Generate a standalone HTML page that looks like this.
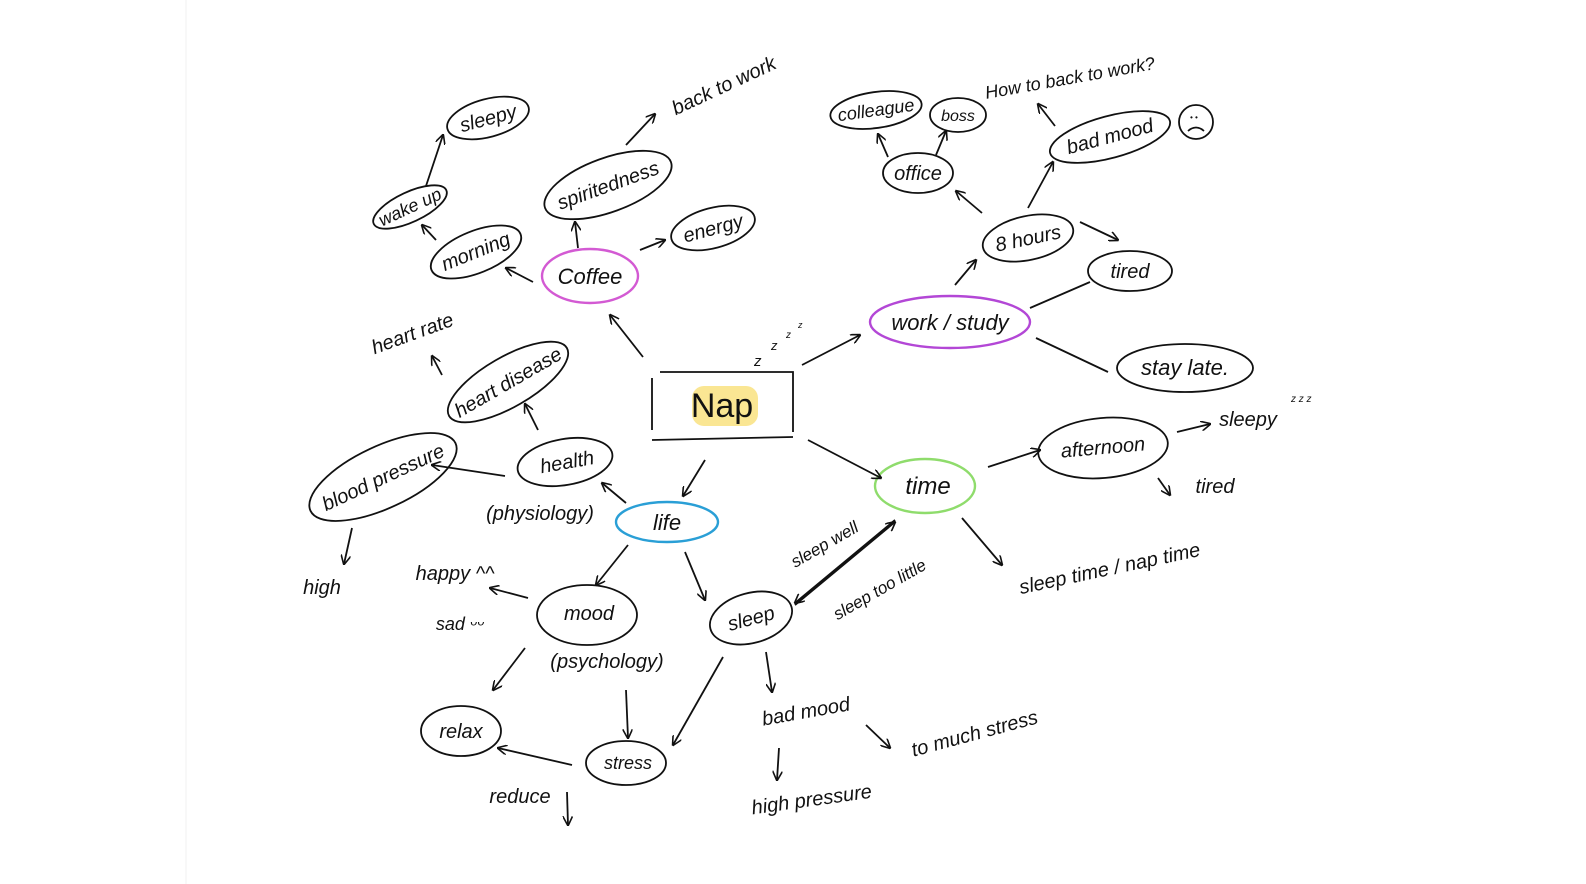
<!DOCTYPE html>
<html><head><meta charset="utf-8"><style>
html,body{margin:0;padding:0;background:#fff;width:1586px;height:884px;overflow:hidden}
svg{display:block}
text{font-family:"Liberation Sans",sans-serif;font-style:italic;fill:#111}
</style></head><body>
<svg width="1586" height="884" viewBox="0 0 1586 884" xmlns="http://www.w3.org/2000/svg">
<defs>
<marker id="a" viewBox="0 0 10 10" refX="9" refY="5" markerWidth="10" markerHeight="10" orient="auto" markerUnits="userSpaceOnUse">
<path d="M0,0 L10,5 L0,10" fill="none" stroke="#111" stroke-width="1.6"/></marker>
</defs>
<line x1="186" y1="0" x2="186" y2="884" stroke="#f2f2f2" stroke-width="1"/>
<g fill="none" stroke="#111" stroke-width="1.8">
<!-- Nap box -->
<path d="M660,372 L793,372 L793,432 M652,378 L652,430 M652,440 L793,437"/>
<!-- ellipses -->
<ellipse cx="590" cy="276" rx="48" ry="27" stroke="#d35ad3" stroke-width="2.4"/>
<ellipse cx="608" cy="185" rx="67" ry="27" transform="rotate(-20 608 185)"/>
<ellipse cx="713" cy="228" rx="43" ry="20" transform="rotate(-15 713 228)"/>
<ellipse cx="476" cy="252" rx="48" ry="21" transform="rotate(-22 476 252)"/>
<ellipse cx="410" cy="207" rx="40" ry="15" transform="rotate(-25 410 207)"/>
<ellipse cx="488" cy="118" rx="42" ry="19" transform="rotate(-15 488 118)"/>
<ellipse cx="508" cy="382" rx="68" ry="25" transform="rotate(-30 508 382)"/>
<ellipse cx="565" cy="462" rx="48" ry="23" transform="rotate(-10 565 462)"/>
<ellipse cx="383" cy="477" rx="80" ry="31" transform="rotate(-25 383 477)"/>
<ellipse cx="667" cy="522" rx="51" ry="20" stroke="#2a9fd6" stroke-width="2.4"/>
<ellipse cx="587" cy="615" rx="50" ry="30"/>
<ellipse cx="461" cy="731" rx="40" ry="25"/>
<ellipse cx="626" cy="763" rx="40" ry="22"/>
<ellipse cx="751" cy="618" rx="42" ry="25" transform="rotate(-15 751 618)"/>
<ellipse cx="925" cy="486" rx="50" ry="27" stroke="#8fdc6c" stroke-width="2.4"/>
<ellipse cx="1103" cy="448" rx="65" ry="30" transform="rotate(-5 1103 448)"/>
<ellipse cx="950" cy="322" rx="80" ry="26" stroke="#b347d6" stroke-width="2.4"/>
<ellipse cx="1028" cy="238" rx="46" ry="22" transform="rotate(-12 1028 238)"/>
<ellipse cx="1130" cy="271" rx="42" ry="20"/>
<ellipse cx="1185" cy="368" rx="68" ry="24"/>
<ellipse cx="918" cy="173" rx="35" ry="20"/>
<ellipse cx="876" cy="110" rx="46" ry="18" transform="rotate(-8 876 110)"/>
<ellipse cx="958" cy="115" rx="28" ry="17"/>
<ellipse cx="1110" cy="137" rx="62" ry="21" transform="rotate(-15 1110 137)"/>
<circle cx="1196" cy="122" r="17"/>
<path d="M1188,131 Q1196,124 1204,131"/>
<!-- arrows -->
<g marker-end="url(#a)">
<line x1="643" y1="357" x2="610" y2="315"/>
<line x1="578" y1="248" x2="575" y2="222"/>
<line x1="626" y1="145" x2="655" y2="114"/>
<line x1="640" y1="250" x2="665" y2="240"/>
<line x1="533" y1="282" x2="506" y2="268"/>
<line x1="436" y1="240" x2="422" y2="225"/>
<line x1="426" y1="186" x2="443" y2="135"/>
<line x1="538" y1="430" x2="525" y2="404"/>
<line x1="442" y1="375" x2="432" y2="356"/>
<line x1="505" y1="476" x2="432" y2="465"/>
<line x1="352" y1="528" x2="344" y2="564"/>
<line x1="626" y1="503" x2="602" y2="483"/>
<line x1="705" y1="460" x2="683" y2="496"/>
<line x1="628" y1="545" x2="596" y2="585"/>
<line x1="685" y1="552" x2="705" y2="600"/>
<line x1="528" y1="598" x2="490" y2="588"/>
<line x1="525" y1="648" x2="493" y2="690"/>
<line x1="626" y1="690" x2="628" y2="738"/>
<line x1="572" y1="765" x2="498" y2="748"/>
<line x1="567" y1="792" x2="568" y2="825"/>
<line x1="723" y1="657" x2="673" y2="745"/>
<line x1="766" y1="652" x2="772" y2="692"/>
<line x1="779" y1="748" x2="777" y2="780"/>
<line x1="866" y1="725" x2="890" y2="748"/>
<line x1="895" y1="520" x2="795" y2="603"/>
<line x1="795" y1="605" x2="895" y2="522"/>
<line x1="808" y1="440" x2="881" y2="478"/>
<line x1="962" y1="518" x2="1002" y2="565"/>
<line x1="988" y1="467" x2="1040" y2="450"/>
<line x1="1177" y1="432" x2="1210" y2="424"/>
<line x1="1158" y1="478" x2="1170" y2="495"/>
<line x1="802" y1="365" x2="860" y2="335"/>
<line x1="955" y1="285" x2="976" y2="260"/>
<line x1="1080" y1="222" x2="1118" y2="240"/>
<line x1="1028" y1="208" x2="1053" y2="162"/>
<line x1="1055" y1="126" x2="1038" y2="104"/>
<line x1="982" y1="213" x2="956" y2="191"/>
<line x1="888" y1="157" x2="878" y2="134"/>
<line x1="936" y1="155" x2="946" y2="131"/>
</g>
<line x1="1030" y1="308" x2="1090" y2="282"/>
<line x1="1036" y1="338" x2="1108" y2="372"/>
</g>
<!-- Nap highlight -->
<rect x="692" y="386" width="66" height="40" rx="12" fill="#f6d23a" opacity="0.55"/>
<text x="722" y="417" text-anchor="middle" font-size="34" style="font-style:normal">Nap</text>
<text x="754" y="366" font-size="15">z</text><text x="771" y="350" font-size="13">z</text><text x="786" y="338" font-size="10">z</text><text x="798" y="328" font-size="9">z</text>
<g font-size="20">
<text x="590" y="284" text-anchor="middle" font-size="22">Coffee</text>
<text x="608" y="192" text-anchor="middle" transform="rotate(-20 608 185)">spiritedness</text>
<text x="713" y="235" text-anchor="middle" transform="rotate(-15 713 228)">energy</text>
<text x="476" y="258" text-anchor="middle" transform="rotate(-22 476 252)">morning</text>
<text x="410" y="213" text-anchor="middle" font-size="18" transform="rotate(-25 410 207)">wake up</text>
<text x="488" y="125" text-anchor="middle" transform="rotate(-15 488 118)">sleepy</text>
<text x="725" y="92" text-anchor="middle" transform="rotate(-25 725 88)">back to work</text>
<text x="508" y="389" text-anchor="middle" transform="rotate(-30 508 382)">heart disease</text>
<text x="413" y="340" text-anchor="middle" transform="rotate(-20 413 335)">heart rate</text>
<text x="567" y="469" text-anchor="middle" transform="rotate(-10 565 462)">health</text>
<text x="540" y="520" text-anchor="middle">(physiology)</text>
<text x="383" y="484" text-anchor="middle" transform="rotate(-25 383 477)">blood pressure</text>
<text x="322" y="594" text-anchor="middle">high</text>
<text x="667" y="530" text-anchor="middle" font-size="22">life</text>
<text x="589" y="620" text-anchor="middle">mood</text>
<text x="607" y="668" text-anchor="middle">(psychology)</text>
<text x="455" y="580" text-anchor="middle">happy ^^</text>
<text x="460" y="630" text-anchor="middle" font-size="18">sad ᵕᵕ</text>
<text x="461" y="738" text-anchor="middle">relax</text>
<text x="628" y="769" text-anchor="middle" font-size="18">stress</text>
<text x="520" y="803" text-anchor="middle">reduce</text>
<text x="751" y="625" text-anchor="middle" transform="rotate(-15 751 618)">sleep</text>
<text x="806" y="718" text-anchor="middle" transform="rotate(-10 806 712)">bad mood</text>
<text x="975" y="740" text-anchor="middle" transform="rotate(-15 975 735)">to much stress</text>
<text x="812" y="806" text-anchor="middle" transform="rotate(-8 812 802)">high pressure</text>
<text x="825" y="550" text-anchor="middle" font-size="17" transform="rotate(-30 825 545)">sleep well</text>
<text x="880" y="595" text-anchor="middle" font-size="17" transform="rotate(-30 880 590)">sleep too little</text>
<text x="928" y="494" text-anchor="middle" font-size="24">time</text>
<text x="1103" y="454" text-anchor="middle" transform="rotate(-5 1103 448)">afternoon</text>
<text x="1248" y="426" text-anchor="middle">sleepy</text>
<text x="1291" y="402" font-size="10">z z z</text>
<text x="1215" y="493" text-anchor="middle">tired</text>
<text x="1110" y="575" text-anchor="middle" transform="rotate(-12 1110 570)">sleep time / nap time</text>
<text x="950" y="330" text-anchor="middle" font-size="22">work / study</text>
<text x="1028" y="245" text-anchor="middle" transform="rotate(-12 1028 238)">8 hours</text>
<text x="1130" y="278" text-anchor="middle">tired</text>
<text x="1185" y="375" text-anchor="middle" font-size="22">stay late.</text>
<text x="918" y="180" text-anchor="middle">office</text>
<text x="876" y="116" text-anchor="middle" font-size="18" transform="rotate(-8 876 110)">colleague</text>
<text x="958" y="121" text-anchor="middle" font-size="16">boss</text>
<text x="1110" y="143" text-anchor="middle" transform="rotate(-15 1110 137)">bad mood</text>
<text x="1070" y="84" text-anchor="middle" font-size="18" transform="rotate(-10 1070 78)">How to back to work?</text>
</g>
<text x="1190" y="120" font-size="8">• •</text>
</svg>
</body></html>
